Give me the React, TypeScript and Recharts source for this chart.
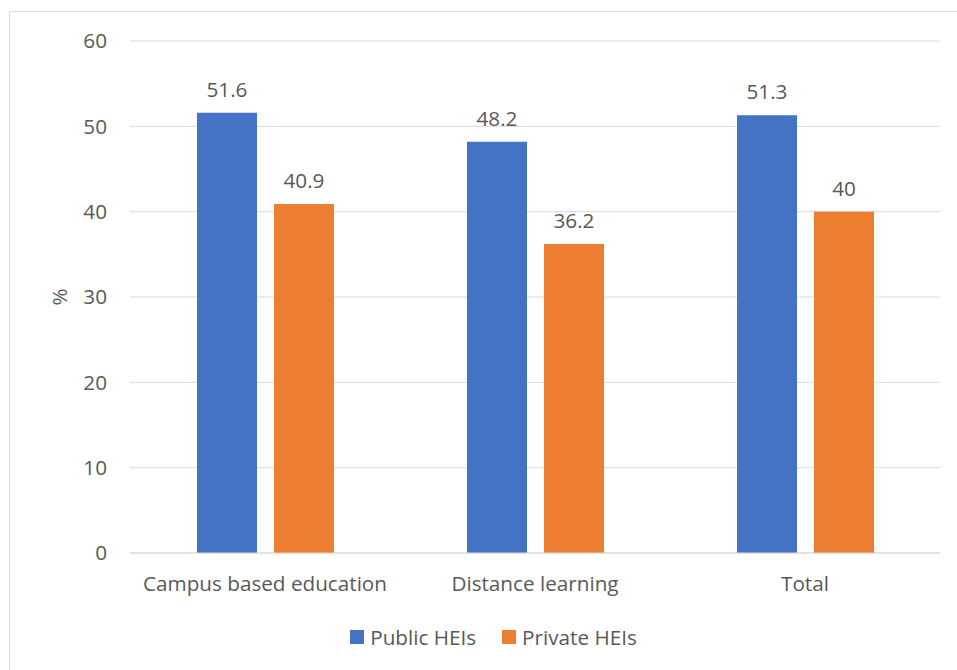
import React from "react";
import {
  BarChart,
  Bar,
  XAxis,
  YAxis,
  CartesianGrid,
  LabelList,
} from "recharts";

const categories = ["Campus based education", "Distance learning", "Total"];
const publicHEIs = [51.6, 48.2, 51.3];
const privateHEIs = [40.9, 36.2, 40];
const yTicks = [0, 10, 20, 30, 40, 50, 60];

const data = categories.map((name, i) => ({
  name,
  publicHEIs: publicHEIs[i],
  privateHEIs: privateHEIs[i],
}));

const FONT = "'Open Sans', sans-serif";
const TEXT = "#595959";
const FS = 20.7;

const legendItems = [
  { label: "Public HEIs", color: "#4472C4" },
  { label: "Private HEIs", color: "#ED7D31" },
];

function ChartLegend() {
  return (
    <div
      style={{
        position: "absolute",
        left: 15,
        top: 623,
        width: 957,
        display: "flex",
        justifyContent: "center",
        alignItems: "center",
        gap: 26,
        fontFamily: FONT,
        fontSize: FS,
        color: TEXT,
      }}
    >
      {legendItems.map((it) => (
        <div key={it.label} style={{ display: "flex", alignItems: "center", gap: 6 }}>
          <span style={{ width: 14, height: 14, background: it.color, display: "inline-block" }} />
          <span>{it.label}</span>
        </div>
      ))}
    </div>
  );
}

export default function App() {
  return (
    <div
      style={{
        position: "absolute",
        left: 0,
        top: 0,
        width: 957,
        height: 670,
        overflow: "hidden",
        background: "#fff",
      }}
    >
      <div
        style={{
          position: "absolute",
          left: 9,
          top: 11,
          width: 1000,
          height: 700,
          border: "1px solid #d9d9d9",
        }}
      />
      <BarChart
        width={957}
        height={670}
        data={data}
        margin={{ top: 41, right: 17, bottom: 87, left: 0 }}
        barSize={60}
        barGap={17}
        style={{ fontFamily: FONT }}
      >
        <CartesianGrid vertical={false} stroke="#d9d9d9" strokeWidth={1} />
        <XAxis
          dataKey="name"
          height={30}
          tickLine={false}
          tickSize={0}
          tickMargin={23}
          axisLine={{ stroke: "#d9d9d9" }}
          tick={{ fill: TEXT, fontSize: FS }}
        />
        <YAxis
          width={130}
          domain={[0, 60]}
          ticks={yTicks}
          tickLine={false}
          tickSize={0}
          tickMargin={23}
          axisLine={false}
          tick={{ fill: TEXT, fontSize: FS }}
          label={{ value: "%", angle: -90, position: "center", dx: -5, fill: TEXT, fontSize: FS }}
        />
        <Bar dataKey="publicHEIs" fill="#4472C4" isAnimationActive={false}>
          <LabelList dataKey="publicHEIs" position="top" offset={16} fill={TEXT} fontSize={FS} />
        </Bar>
        <Bar dataKey="privateHEIs" fill="#ED7D31" isAnimationActive={false}>
          <LabelList dataKey="privateHEIs" position="top" offset={16} fill={TEXT} fontSize={FS} />
        </Bar>
      </BarChart>
      <ChartLegend />
    </div>
  );
}
